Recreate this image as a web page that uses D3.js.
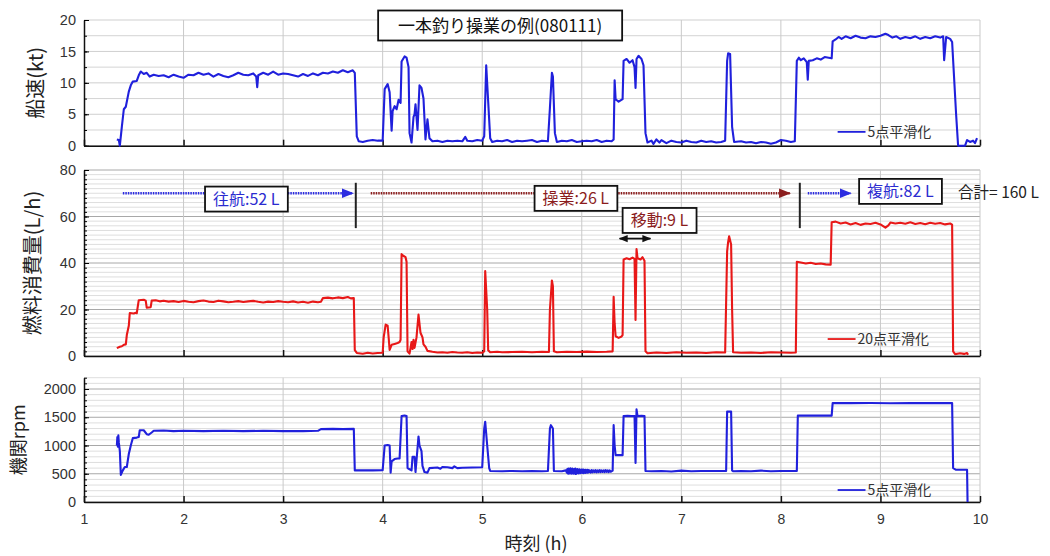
<!DOCTYPE html>
<html>
<head>
<meta charset="utf-8">
<script src="https://cdn.jsdelivr.net/npm/d3@7"></script>
<style>
  body { margin: 0; background: #fff; }
  text { font-family: "Liberation Sans", Arial, "Noto Sans CJK JP", sans-serif; }
  .jp { font-family: "Noto Sans CJK JP", "Liberation Sans", sans-serif; }
</style>
</head>
<body>
<svg id="canvas"></svg>
<script>
// time (h), ship speed (kt)
const speedData = [
  [1.33,1.0],[1.35,0.9],[1.36,0],[1.38,3],[1.40,5.8],[1.42,6.2],[1.45,8.6],[1.47,9.6],[1.49,10.2],[1.53,10.3],
  [1.55,11.2],[1.57,11.8],[1.60,11.4],[1.63,11.6],[1.66,11.0],[1.70,11.3],[1.75,11.1],[1.80,11.2],[1.85,10.9],
  [1.90,11.3],[1.95,11.0],[2.00,10.8],[2.05,11.3],[2.10,11.2],[2.15,11.6],[2.20,11.3],[2.25,11.5],[2.30,11.0],
  [2.35,11.4],[2.40,11.1],[2.45,10.9],[2.50,11.2],[2.55,11.6],[2.60,11.3],[2.65,11.2],[2.70,11.5],[2.73,11.0],
  [2.74,9.3],[2.75,11.2],[2.80,11.6],[2.85,11.3],[2.90,11.8],[2.95,11.3],[3.00,11.5],[3.05,11.4],[3.10,11.2],
  [3.15,11.0],[3.20,11.4],[3.25,11.1],[3.30,11.5],[3.35,11.2],[3.40,11.6],[3.45,11.5],[3.50,11.8],[3.55,11.6],
  [3.60,12.0],[3.65,11.7],[3.70,12.0],[3.72,11.6],[3.74,1.5],[3.76,0.7],[3.80,0.6],[3.85,0.8],[3.90,0.9],
  [3.95,0.8],[4.00,0.8],[4.02,9.0],[4.05,9.8],[4.07,8.5],[4.09,2.4],[4.10,5.5],[4.12,6.3],[4.14,5.8],[4.16,7.3],
  [4.18,6.8],[4.19,13.4],[4.22,14.2],[4.24,14.0],[4.26,12.5],[4.27,2.0],[4.29,0.5],[4.31,4.6],[4.32,5.0],
  [4.33,6.6],[4.35,2.5],[4.37,9.6],[4.39,9.2],[4.41,7.5],[4.43,1.0],[4.45,4.2],[4.47,1.2],[4.50,0.7],[4.55,0.8],
  [4.60,0.6],[4.65,0.8],[4.70,0.7],[4.75,0.8],[4.80,0.7],[4.83,1.4],[4.85,0.8],[4.90,0.7],[4.95,0.9],[5.00,0.8],
  [5.02,1.5],[5.04,12.8],[5.06,7],[5.08,1.2],[5.10,0.6],[5.15,0.8],[5.20,0.7],[5.25,0.9],[5.30,0.6],[5.35,0.8],
  [5.40,0.7],[5.45,0.8],[5.50,0.9],[5.55,0.6],[5.60,0.8],[5.66,0.7],[5.68,6],[5.70,11.6],[5.71,11.0],[5.73,2],
  [5.75,0.6],[5.80,0.8],[5.85,0.7],[5.90,0.9],[5.95,0.6],[6.00,0.7],[6.05,0.8],[6.10,0.7],[6.15,0.9],[6.20,0.6],
  [6.25,0.8],[6.30,0.7],[6.32,1.0],[6.33,10.4],[6.34,7.4],[6.37,7.0],[6.41,7.4],[6.42,13.5],[6.45,13.8],
  [6.48,13.2],[6.51,13.6],[6.53,12.5],[6.54,9.2],[6.55,13.8],[6.57,14.3],[6.60,13.8],[6.62,12.8],[6.64,2],
  [6.66,0.5],[6.70,0.8],[6.72,0.3],[6.75,1.0],[6.78,0.5],[6.80,0.9],[6.85,0.4],[6.90,0.8],[6.95,0.6],[7.00,0.5],
  [7.05,0.8],[7.10,0.6],[7.15,0.5],[7.20,0.8],[7.25,0.6],[7.30,0.7],[7.35,0.5],[7.40,0.6],[7.44,0.8],
  [7.46,13.5],[7.47,14.7],[7.49,14.6],[7.51,3],[7.53,0.6],[7.60,0.7],[7.65,0.5],[7.70,0.6],[7.75,0.4],
  [7.80,0.6],[7.85,0.5],[7.90,0.3],[7.95,0.5],[8.00,0.9],[8.05,0.8],[8.10,0.6],[8.14,0.7],[8.16,13.5],
  [8.18,14.0],[8.20,13.6],[8.23,13.9],[8.26,13.3],[8.27,10.5],[8.28,13.5],[8.32,13.6],[8.36,13.9],[8.40,13.7],
  [8.44,14.1],[8.48,14.0],[8.51,13.9],[8.52,16.6],[8.55,16.9],[8.58,17.3],[8.61,17.0],[8.65,17.4],[8.70,17.1],
  [8.75,17.5],[8.80,17.2],[8.85,17.1],[8.90,17.4],[8.95,17.3],[9.00,17.5],[9.05,17.8],[9.08,17.6],[9.12,17.2],
  [9.16,17.4],[9.20,17.0],[9.25,17.3],[9.30,17.1],[9.35,17.4],[9.40,17.0],[9.45,17.3],[9.50,17.1],[9.55,17.4],
  [9.60,17.2],[9.63,17.4],[9.64,13.6],[9.66,17.3],[9.70,17.0],[9.72,16.5],[9.76,5],[9.78,0],[9.85,0],
  [9.87,0.9],[9.90,0.6],[9.93,0.8],[9.95,0.4],[9.97,1.2]
]

// time (h), fuel consumption (L/h)
const fuelData = [
  [1.33,3.4],[1.36,4.0],[1.38,4.2],[1.40,4.8],[1.42,5.0],[1.43,9],[1.45,13],[1.46,18.5],[1.50,18.3],[1.52,18.6],
  [1.53,18.4],[1.55,24],[1.60,24.2],[1.62,23.8],[1.63,20.8],[1.67,21.0],[1.68,23.8],[1.72,24.0],[1.76,23.5],
  [1.80,23.8],[1.85,23.4],[1.90,23.6],[1.95,23.2],[2.00,23.7],[2.05,23.3],[2.10,23.1],[2.15,23.6],[2.20,23.9],
  [2.25,23.4],[2.30,23.2],[2.35,23.8],[2.40,23.5],[2.45,23.1],[2.50,23.3],[2.55,23.6],[2.60,23.2],[2.65,23.5],
  [2.70,23.7],[2.75,23.3],[2.80,23.0],[2.85,23.4],[2.90,23.2],[2.95,23.6],[3.00,23.3],[3.05,23.1],[3.10,23.5],
  [3.15,23.0],[3.20,23.3],[3.25,22.9],[3.30,23.4],[3.35,23.1],[3.38,23.3],[3.40,24.9],[3.45,25.1],[3.50,24.8],
  [3.55,25.2],[3.60,24.9],[3.65,25.4],[3.68,24.8],[3.71,24.9],[3.72,2.5],[3.74,1.3],[3.80,1.0],[3.85,1.4],
  [3.90,1.1],[3.95,1.3],[4.00,1.4],[4.01,8],[4.03,13.5],[4.05,13.0],[4.06,8],[4.07,2.6],[4.09,4.8],[4.12,5.2],
  [4.15,5.6],[4.17,6.0],[4.18,7],[4.19,43.8],[4.21,43.0],[4.23,42.5],[4.24,40.5],[4.25,2],[4.27,1.0],[4.29,6],
  [4.30,3],[4.31,7],[4.32,3.5],[4.34,8],[4.36,17.8],[4.38,10],[4.40,8],[4.41,5],[4.43,4],[4.45,2.2],[4.50,1.8],
  [4.55,1.5],[4.60,1.6],[4.65,1.4],[4.70,1.7],[4.75,1.5],[4.80,1.4],[4.85,1.6],[4.90,1.3],[4.95,1.5],[5.00,1.4],
  [5.02,2],[5.03,36.5],[5.05,20],[5.06,2.5],[5.08,1.6],[5.15,1.8],[5.20,1.6],[5.30,1.7],[5.40,1.8],[5.50,1.6],
  [5.60,1.8],[5.67,1.7],[5.68,20],[5.70,32.5],[5.71,30],[5.72,2],[5.75,1.6],[5.85,1.8],[5.95,1.7],[6.05,1.9],
  [6.15,1.7],[6.25,1.8],[6.31,2],[6.32,25.5],[6.33,14],[6.34,8.5],[6.37,7.8],[6.40,8.4],[6.41,9],[6.42,41.5],
  [6.45,42],[6.48,41.6],[6.51,42.3],[6.53,41.8],[6.54,15.5],[6.55,46],[6.56,42],[6.59,41.5],[6.61,42.5],
  [6.63,41],[6.64,2],[6.66,1.2],[6.75,1.5],[6.85,1.3],[6.95,1.6],[7.05,1.4],[7.15,1.5],[7.25,1.3],[7.35,1.6],
  [7.44,1.5],[7.46,45],[7.47,49],[7.48,51.5],[7.50,48],[7.51,20],[7.52,1.6],[7.60,1.4],[7.70,1.5],[7.80,1.3],
  [7.90,1.6],[8.00,1.5],[8.10,1.4],[8.15,1.5],[8.16,40.5],[8.20,40.2],[8.25,39.8],[8.30,40.1],[8.35,39.6],
  [8.40,39.8],[8.45,39.4],[8.50,39.3],[8.51,57.5],[8.55,57.8],[8.60,57.0],[8.65,57.4],[8.70,56.6],[8.75,57.2],
  [8.80,56.4],[8.85,57.0],[8.90,56.8],[8.95,57.3],[9.00,56.6],[9.05,55.2],[9.08,56.2],[9.10,57.4],[9.15,57.0],
  [9.20,57.3],[9.25,56.9],[9.30,57.5],[9.35,56.8],[9.40,57.2],[9.45,56.7],[9.50,57.3],[9.55,56.9],[9.60,57.2],
  [9.65,56.6],[9.70,57.0],[9.72,56.5],[9.73,2],[9.75,0.8],[9.80,1.2],[9.84,0.9],[9.87,1.3],[9.88,0.5]
]

// time (h), engine rpm
const rpmData = [
  [1.33,1000],[1.335,1150],[1.34,980],[1.345,1180],[1.35,1050],[1.36,900],[1.37,480],[1.39,560],[1.41,620],
  [1.43,620],[1.45,850],[1.47,1000],[1.49,1130],[1.53,1140],[1.55,1150],[1.56,1270],[1.60,1270],[1.63,1200],
  [1.65,1190],[1.68,1230],[1.70,1260],[1.80,1265],[1.90,1255],[2.00,1260],[2.20,1255],[2.40,1260],[2.60,1255],
  [2.80,1260],[3.00,1255],[3.20,1255],[3.35,1260],[3.38,1290],[3.50,1295],[3.60,1290],[3.71,1295],[3.72,560],
  [3.80,560],[3.90,560],[4.00,565],[4.02,1000],[4.05,1010],[4.07,1000],[4.08,520],[4.09,720],[4.12,760],
  [4.15,770],[4.17,770],[4.19,1520],[4.22,1530],[4.24,1520],[4.25,600],[4.27,580],[4.29,560],[4.30,800],
  [4.32,800],[4.33,530],[4.36,1160],[4.37,1000],[4.39,900],[4.40,640],[4.42,530],[4.45,520],[4.47,600],
  [4.55,610],[4.58,590],[4.60,620],[4.65,615],[4.70,600],[4.72,630],[4.75,600],[4.80,605],[4.90,610],[5.00,615],
  [5.02,1300],[5.03,1420],[5.05,1000],[5.07,600],[5.08,550],[5.20,545],[5.30,550],[5.40,545],[5.50,550],
  [5.60,545],[5.66,550],[5.68,1300],[5.69,1360],[5.71,1300],[5.72,550],[5.80,545],[5.84,560],[5.85,520],
  [5.855,585],[5.86,505],[5.865,590],[5.87,500],[5.875,580],[5.88,510],[5.885,595],[5.89,505],[5.895,575],
  [5.90,500],[5.905,590],[5.91,515],[5.915,580],[5.92,500],[5.925,585],[5.93,510],[5.935,590],[5.94,495],
  [5.945,575],[5.95,505],[5.955,585],[5.96,515],[5.965,570],[5.97,505],[5.975,580],[5.98,520],[5.985,565],
  [5.99,510],[5.995,575],[6.00,520],[6.005,570],[6.01,515],[6.015,575],[6.02,510],[6.025,565],[6.03,520],
  [6.035,570],[6.04,515],[6.045,560],[6.05,525],[6.055,570],[6.06,520],[6.065,565],[6.07,525],[6.08,560],
  [6.09,520],[6.10,565],[6.11,525],[6.12,560],[6.13,530],[6.14,565],[6.15,525],[6.16,560],[6.17,530],
  [6.18,565],[6.19,530],[6.20,560],[6.21,535],[6.22,560],[6.23,530],[6.24,565],[6.25,535],[6.26,560],
  [6.27,530],[6.28,560],[6.29,535],[6.31,555],[6.32,1360],[6.33,1000],[6.34,830],[6.38,830],
  [6.41,830],[6.42,1520],[6.46,1525],[6.50,1520],[6.53,1520],[6.54,690],[6.55,1640],[6.56,1520],[6.60,1525],
  [6.63,1520],[6.64,550],[6.70,545],[6.80,550],[6.90,540],[7.00,555],[7.10,545],[7.20,550],[7.30,548],
  [7.45,550],[7.46,1600],[7.50,1600],[7.51,560],[7.52,545],[7.60,550],[7.70,545],[7.80,555],[7.90,545],
  [8.00,550],[8.10,548],[8.16,550],[8.17,1528],[8.30,1528],[8.40,1528],[8.51,1528],[8.52,1750],[8.70,1750],
  [8.90,1752],[9.10,1748],[9.30,1750],[9.50,1750],[9.72,1750],[9.73,600],[9.76,570],[9.80,570],[9.87,570],
  [9.875,0]
]

const xTicks = [1, 2, 3, 4, 5, 6, 7, 8, 9, 10]
const speedTicks = [0, 5, 10, 15, 20]
const fuelTicks = [0, 20, 40, 60, 80]
const rpmTicks = [0, 500, 1000, 1500, 2000]

// phase annotations on the fuel panel (time in h, level in L/h)
const phaseArrows = [
  { from: 1.39, to: 3.70, color: '#2b2be0' },
  { from: 3.88, to: 8.09, color: '#8b1d1d' },
  { from: 8.27, to: 8.70, color: '#2b2be0' }
]
const phaseBreaks = [3.73, 8.19]
const phaseLabels = [
  { text: '往航:52 L', t: 2.63, v: 67.5, color: '#2b2bd0' },
  { text: '操業:26 L', t: 5.94, v: 67.8, color: '#8b1d1d' },
  { text: '複航:82 L', t: 9.20, v: 70.8, color: '#2b2bd0' },
  { text: '移動:9 L', t: 6.78, v: 58.3, color: '#8b1d1d' }
]

const svg = d3.select('#canvas').attr('width', 1050).attr('height', 556)
const x = d3.scaleLinear().domain([1, 10]).range([84, 980])

const defs = svg.append('defs')
const addMarker = (id, color, orient) => {
  defs.append('marker')
      .attr('id', id)
      .attr('viewBox', '0 0 10 10')
      .attr('refX', 9).attr('refY', 5)
      .attr('markerWidth', 5).attr('markerHeight', 5)
      .attr('markerUnits', 'strokeWidth')
      .attr('orient', orient)
    .append('path')
      .attr('d', 'M0,1 L10,5 L0,9 Z')
      .attr('fill', color)
}
addMarker('arrBlue', '#2b2be0', 'auto')
addMarker('arrRed', '#8b1d1d', 'auto')
addMarker('arrBlack', '#111', 'auto')
addMarker('arrBlackStart', '#111', 'auto-start-reverse')

// draws one stacked panel: grid, axes, series and legend
const drawPanel = (p) => {
  const y = d3.scaleLinear().domain(p.domain).range(p.range)
  const g = svg.append('g')
  const [y0, y1] = p.range

  const minor = d3.range(p.domain[0], p.domain[1] + 1e-9, p.minorStep)
  g.append('g').selectAll('line').data(minor).enter().append('line')
      .attr('x1', x(1)).attr('x2', x(10))
      .attr('y1', d => y(d)).attr('y2', d => y(d))
      .attr('stroke', d => p.majorTicks.includes(d) ? p.majorGrid : p.minorGrid)
      .attr('stroke-width', 1)
  g.append('g').selectAll('line').data(xTicks.slice(1)).enter().append('line')
      .attr('x1', d => x(d)).attr('x2', d => x(d))
      .attr('y1', y0).attr('y2', y1)
      .attr('stroke', '#c9c9c9').attr('stroke-width', 1)

  // left axis: minor ticks inward, then labelled major ticks
  g.append('g').attr('transform', `translate(${x(1)},0)`)
      .call(d3.axisLeft(y).tickValues(minor).tickSize(-3).tickSizeOuter(0).tickFormat(''))
      .call(a => a.select('.domain').attr('stroke', '#111').attr('stroke-width', 1.5))
  g.append('g').attr('transform', `translate(${x(1)},0)`)
      .call(d3.axisLeft(y).tickValues(p.majorTicks).tickSize(-5).tickSizeOuter(0).tickPadding(8)
        .tickFormat(d3.format('d')))
      .call(a => a.select('.domain').remove())
      .call(a => a.selectAll('text').attr('font-size', 14.5).attr('fill', '#333'))

  const bottom = d3.axisBottom(x).tickValues(xTicks).tickSize(-6).tickSizeOuter(0).tickPadding(12)
  if (!p.xLabels) bottom.tickFormat('')
  g.append('g').attr('transform', `translate(0,${y0})`)
      .call(bottom)
      .call(a => a.select('.domain').attr('stroke', '#111').attr('stroke-width', 1.5))
      .call(a => a.selectAll('line').attr('stroke', '#111').attr('stroke-width', 1.5))
      .call(a => a.selectAll('text').attr('font-size', 14).attr('fill', '#333'))

  const line = d3.line().x(d => x(d[0])).y(d => y(d[1]))
  g.append('path').datum(p.data)
      .attr('d', line)
      .attr('fill', 'none')
      .attr('stroke', p.color)
      .attr('stroke-width', 2.1)
      .attr('stroke-linejoin', 'round')

  // legend
  g.append('line')
      .attr('x1', x(p.legend.t)).attr('x2', x(p.legend.t + 0.28))
      .attr('y1', y(p.legend.v)).attr('y2', y(p.legend.v))
      .attr('stroke', p.color).attr('stroke-width', 1.8)
  g.append('text').attr('class', 'jp')
      .attr('x', x(p.legend.t + 0.3)).attr('y', y(p.legend.v))
      .attr('dy', '0.36em').attr('font-size', 14).attr('fill', '#333')
      .text(p.legend.text)

  // axis title
  svg.append('text').attr('class', 'jp')
      .attr('transform', `translate(${p.title.x},${(y0 + y1) / 2}) rotate(-90)`)
      .attr('text-anchor', 'middle').attr('dy', '0.35em')
      .attr('font-size', p.title.size).attr('fill', '#222')
      .text(p.title.text)
  return y
}

drawPanel({
  domain: [0, 20], range: [145.7, 20], majorTicks: speedTicks, minorStep: 2.5,
  minorGrid: '#d4d4d4', majorGrid: '#cfcfcf', data: speedData, color: '#2020dc',
  legend: { t: 8.57, v: 2.2, text: '5点平滑化' },
  title: { text: '船速(kt)', x: 36, size: 20 }
})
const yFuel = drawPanel({
  domain: [0, 80], range: [356, 170], majorTicks: fuelTicks, minorStep: 2,
  minorGrid: '#dedede', majorGrid: '#a8a8a8', data: fuelData, color: '#e81818',
  legend: { t: 8.47, v: 7.3, text: '20点平滑化' },
  title: { text: '燃料消費量(L/h)', x: 33, size: 20 }
})
drawPanel({
  domain: [0, 2200], range: [502, 377.7], majorTicks: rpmTicks, minorStep: 100,
  minorGrid: '#dedede', majorGrid: '#a8a8a8', data: rpmData, color: '#2020dc', xLabels: true,
  legend: { t: 8.57, v: 212, text: '5点平滑化' },
  title: { text: '機関rpm', x: 19, size: 18 }
})

// fuel panel annotations
const ann = svg.append('g')
ann.selectAll('line.phase').data(phaseArrows).enter().append('line')
    .attr('x1', d => x(d.from)).attr('x2', d => x(d.to))
    .attr('y1', yFuel(70)).attr('y2', yFuel(70))
    .attr('stroke', d => d.color).attr('stroke-width', 2.4)
    .attr('stroke-dasharray', '1.5,1')
    .attr('marker-end', d => d.color === '#8b1d1d' ? 'url(#arrRed)' : 'url(#arrBlue)')
ann.selectAll('line.break').data(phaseBreaks).enter().append('line')
    .attr('x1', d => x(d)).attr('x2', d => x(d))
    .attr('y1', yFuel(74.5)).attr('y2', yFuel(55))
    .attr('stroke', '#222').attr('stroke-width', 2)
ann.append('line')
    .attr('x1', x(6.38)).attr('x2', x(6.69))
    .attr('y1', yFuel(50.5)).attr('y2', yFuel(50.5))
    .attr('stroke', '#111').attr('stroke-width', 1.8)
    .attr('marker-start', 'url(#arrBlackStart)').attr('marker-end', 'url(#arrBlack)')

phaseLabels.forEach(d => {
  const lg = ann.append('g').attr('transform', `translate(${x(d.t)},${yFuel(d.v)})`)
  const rect = lg.append('rect')
  const t = lg.append('text').attr('class', 'jp')
      .attr('text-anchor', 'middle').attr('dy', '0.36em')
      .attr('font-size', 16).attr('fill', d.color)
      .text(d.text)
  const bb = t.node().getBBox()
  rect.attr('x', bb.x - 8).attr('y', -12.5).attr('width', bb.width + 16).attr('height', 25)
      .attr('fill', '#fff').attr('stroke', '#111').attr('stroke-width', 1.8)
})
ann.append('text').attr('class', 'jp')
    .attr('x', x(9.78)).attr('y', yFuel(70.5)).attr('dy', '0.36em')
    .attr('font-size', 15.5).attr('fill', '#222')
    .text('合計= 160 L')

// chart title box
const tg = svg.append('g').attr('transform', `translate(${x(5.18)},25.5)`)
tg.append('rect')
    .attr('x', -122).attr('y', -15).attr('width', 244).attr('height', 30)
    .attr('fill', '#fff').attr('stroke', '#111').attr('stroke-width', 1.8)
tg.append('text').attr('class', 'jp')
    .attr('text-anchor', 'middle').attr('dy', '0.36em')
    .attr('font-size', 17).attr('fill', '#111')
    .text('一本釣り操業の例(080111)')

// x axis title
svg.append('text').attr('class', 'jp')
    .attr('x', x(5.54)).attr('y', 544).attr('text-anchor', 'middle').attr('dy', '0.35em')
    .attr('font-size', 18).attr('fill', '#222')
    .text('時刻 (h)')
</script>
</body>
</html>
